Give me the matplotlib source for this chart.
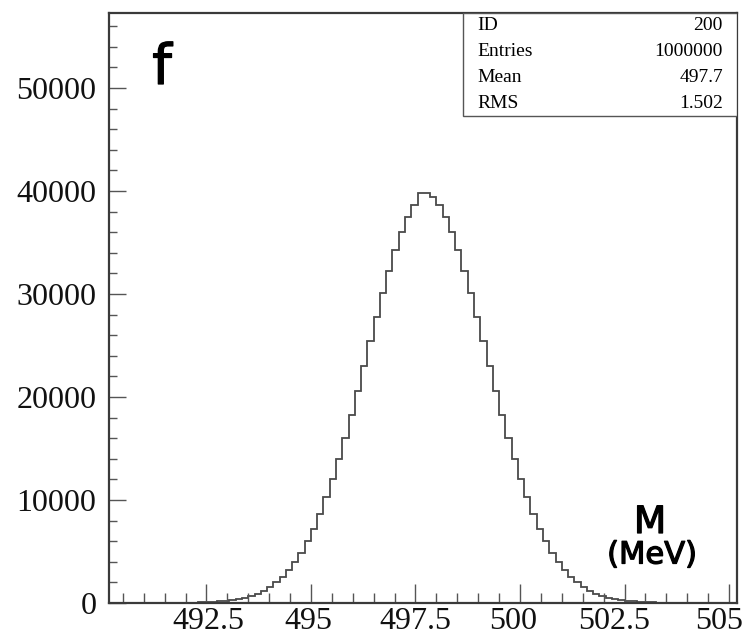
import matplotlib
matplotlib.use("Agg")
import matplotlib.pyplot as plt
from matplotlib.patches import Rectangle
from matplotlib.ticker import MultipleLocator, FixedLocator, FuncFormatter
from matplotlib.transforms import ScaledTranslation
import matplotlib.patheffects as pe
import numpy as np

# Histogram definition: 100 bins from 490.2 to 505.2 MeV
x_low = 490.2
x_high = 505.2
n_bins = 100

# Bin contents (left half rising to the peak, right half falling)
counts_left = [
    0, 0, 1, 1, 1, 1, 2, 3, 5, 7,
    11, 17, 25, 36, 52, 74, 105, 148, 206, 283,
    385, 520, 694, 917, 1201, 1556, 1997, 2537, 3191, 3974,
    4901, 5981, 7229, 8652, 10250, 12023, 13964, 16056, 18279, 20602,
    22990, 25402, 27787, 30095, 32272, 34262, 36013, 37479, 38617, 39790,
]
counts_right = [
    39790, 39395, 38617, 37479, 36013, 34262, 32272, 30095, 27787, 25402,
    22990, 20602, 18279, 16056, 13964, 12023, 10250, 8652, 7229, 5981,
    4901, 3974, 3191, 2537, 1997, 1556, 1201, 917, 694, 520,
    385, 283, 206, 148, 105, 74, 52, 36, 25, 17,
    11, 7, 5, 3, 2, 1, 1, 1, 0, 0,
]

# Statistics box entries
stat_names = ["ID", "Entries", "Mean", "RMS"]
stat_values = ["200", "1000000", "497.7", "1.502"]

x_ticks = [492.5, 495, 497.5, 500, 502.5, 505]
y_ticks = [0, 10000, 20000, 30000, 40000, 50000]

counts = np.array(counts_left + counts_right, dtype=float)
edges = np.linspace(x_low, x_high, n_bins + 1)

W, H = 753, 635
fig = plt.figure(figsize=(W / 100, H / 100), dpi=100)
ax_l, ax_r, ax_b, ax_t = 109, 737, 603, 13
ax = fig.add_axes([ax_l / W, 1 - ax_b / H, (ax_r - ax_l) / W, (ax_b - ax_t) / H])

ax.stairs(counts, edges, color="#4a4a4a", linewidth=1.3)

ax.set_xlim(490.17, 505.19)
ax.set_ylim(0, 57280)

serif = "Liberation Serif"
ax.xaxis.set_major_locator(FixedLocator(x_ticks))
ax.xaxis.set_minor_locator(MultipleLocator(0.5))
ax.yaxis.set_major_locator(FixedLocator(y_ticks))
ax.yaxis.set_minor_locator(MultipleLocator(2000))
ax.xaxis.set_major_formatter(FuncFormatter(lambda v, p: f"{v:g}"))
ax.yaxis.set_major_formatter(FuncFormatter(lambda v, p: f"{int(v)}"))

ax.tick_params(axis="both", which="both", direction="in", color="#555555",
               width=1.0, top=False, right=False)
ax.tick_params(axis="x", which="major", length=14, pad=3)
ax.tick_params(axis="x", which="minor", length=7)
ax.tick_params(axis="y", which="major", length=12, pad=9)
ax.tick_params(axis="y", which="minor", length=6)
for lab in ax.get_xticklabels() + ax.get_yticklabels():
    lab.set_fontfamily(serif)
    lab.set_fontsize(23)
    lab.set_color("#111111")

# Nudge the x labels slightly, as the plotting package placed them
label_shift_px = [2, -3, 0, -7, -10, -10]
for lab, dx in zip(ax.get_xticklabels(), label_shift_px):
    lab.set_transform(lab.get_transform() +
                      ScaledTranslation(dx / 100, 0, fig.dpi_scale_trans))

for s in ax.spines.values():
    s.set_color("#3a3a3a")
    s.set_linewidth(1.6)

# Statistics box in the upper right corner
bx0 = (463 - ax_l) / (ax_r - ax_l)
by0 = (ax_b - 116) / (ax_b - ax_t)
ax.add_patch(Rectangle((bx0, by0), 1 - bx0, 1 - by0, transform=ax.transAxes,
                       facecolor="white", edgecolor="#555555", linewidth=1.0,
                       zorder=5))
row_y = [25, 52, 78, 103]
for name, val, yy in zip(stat_names, stat_values, row_y):
    fy = (ax_b - yy) / (ax_b - ax_t)
    ax.text((477 - ax_l) / (ax_r - ax_l), fy, name, transform=ax.transAxes,
            ha="left", va="center", fontsize=14, family=serif, zorder=6)
    ax.text((723 - ax_l) / (ax_r - ax_l), fy, val, transform=ax.transAxes,
            ha="right", va="center", fontsize=14, family=serif, zorder=6)

# Panel letter and axis unit
stroke = [pe.withStroke(linewidth=0.9, foreground="black")]
fig.text(162 / W, 1 - 69 / H, "f", ha="center", va="center", fontsize=40,
         family="DejaVu Sans", color="black", path_effects=stroke)
fig.text(650 / W, 1 - 523 / H, "M", ha="center", va="center", fontsize=27,
         family="DejaVu Sans", color="black", path_effects=stroke)
fig.text(652 / W, 1 - 555 / H, "(MeV)", ha="center", va="center", fontsize=22,
         family="DejaVu Sans", color="black", path_effects=stroke)

fig.savefig("out.png", dpi=100, facecolor="white")
